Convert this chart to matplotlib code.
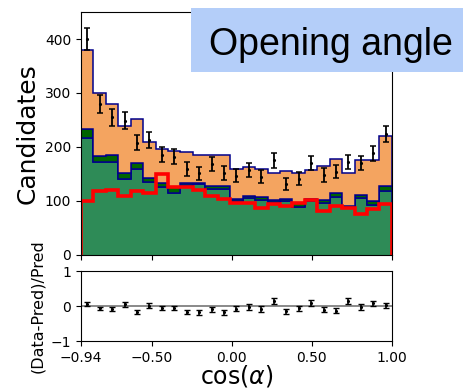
import numpy as np
import matplotlib
matplotlib.use('Agg')
import matplotlib.pyplot as plt
from matplotlib.patches import Rectangle

# binning in cos(alpha)
edges = np.linspace(-0.94, 1.00, 26)
centers = 0.5 * (edges[:-1] + edges[1:])

# predicted components (cumulative tops of the stack)
top_seagreen = [216, 172, 173, 141, 160, 135, 125, 115, 129, 131, 122, 123, 100,
                105, 102, 98, 100, 89, 99, 97, 108, 87, 105, 93, 118]
top_darkgreen = [233, 183, 185, 152, 170, 143, 133, 126, 133, 134, 127, 128, 103,
                 110, 108, 101, 104, 96, 104, 102, 114, 90, 111, 100, 128]
top_total = [380, 300, 279, 238, 251, 210, 197, 193, 191, 185, 185, 185, 159,
             162, 159, 152, 155, 151, 157, 165, 177, 151, 175, 175, 220]

# alternative prediction (red outline)
alt_pred = [99, 118, 120, 110, 119, 115, 150, 126, 125, 120, 109, 103, 97,
            97, 86, 94, 91, 96, 102, 82, 91, 86, 76, 85, 94]

# observed candidates
data = [400, 279, 255, 249, 208, 213, 186, 182, 159, 151, 169, 152, 147,
        157, 145, 175, 131, 141, 170, 148, 154, 172, 170, 188, 224]

xticks = [-0.94, -0.50, 0.00, 0.50, 1.00]
xticklabels = ['\u22120.94', '\u22120.50', '0.00', '0.50', '1.00']

data = np.array(data, dtype=float)
pred = np.array(top_total, dtype=float)
data_err = np.sqrt(data)
ratio = (data - pred) / pred
ratio_err = data_err / pred

fig = plt.figure(figsize=(4.64, 3.88), dpi=100)
ax = fig.add_axes([0.1746, 0.343, 0.670, 0.626])
axr = fig.add_axes([0.1746, 0.1211, 0.670, 0.1804])

# stacked prediction
ax.stairs(top_seagreen, edges, baseline=0, fill=True, facecolor='#2e8b57',
          edgecolor='darkblue', linewidth=1.1)
ax.stairs(top_darkgreen, edges, baseline=np.array(top_seagreen), fill=True,
          facecolor='#006400', edgecolor='darkblue', linewidth=1.1)
ax.stairs(top_total, edges, baseline=np.array(top_darkgreen), fill=True,
          facecolor='#f4a460', edgecolor='darkblue', linewidth=1.1)
ax.stairs(alt_pred, edges, baseline=0, color='red', linewidth=2.6)

ax.errorbar(centers, data, yerr=data_err, fmt='.', color='black',
            markersize=2.5, capsize=2, elinewidth=1.3, capthick=1.1)

ax.set_xlim(-0.94, 1.00)
ax.set_ylim(0, 450)
ax.set_xticks(xticks)
ax.set_xticklabels([])
ax.set_yticks([0, 100, 200, 300, 400])
ax.tick_params(labelsize=10)
ax.set_ylabel('Candidates', fontsize=18)

# ratio panel
axr.axhline(0, color='gray', linewidth=1.3)
axr.errorbar(centers, ratio, yerr=ratio_err, fmt='.', color='black',
             markersize=2.5, capsize=2, elinewidth=1.2, capthick=1.0)
axr.set_xlim(-0.94, 1.00)
axr.set_ylim(-1, 1)
axr.set_yticks([-1, 0, 1])
axr.set_xticks(xticks)
axr.set_xticklabels(xticklabels)
axr.tick_params(labelsize=10)
axr.set_xlabel(r'cos($\alpha$)', fontsize=17, labelpad=-1)
axr.set_ylabel('(Data-Pred)/Pred', fontsize=11.5)

# title box
fig.add_artist(Rectangle((0.4116, 0.814), 0.586, 0.165, transform=fig.transFigure,
                         facecolor='#b4cef9', edgecolor='none', zorder=5))
fig.text(0.713, 0.858, 'Opening angle', fontsize=27, family='Liberation Sans',
         ha='center', va='baseline', zorder=6)

fig.savefig('out.png', dpi=100)
